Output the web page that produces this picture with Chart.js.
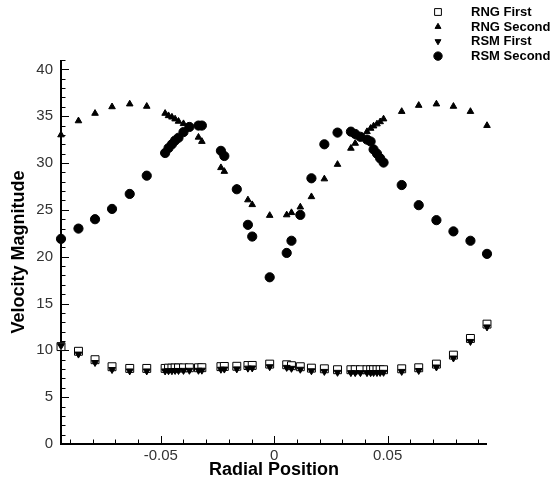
<!DOCTYPE html>
<html>
<head>
<meta charset="utf-8">
<script src="https://cdn.jsdelivr.net/npm/chart.js@4.4.1/dist/chart.umd.min.js"></script>
<style>
  html, body { margin: 0; padding: 0; background: #fff; }
  #velocityChart { display: block; }
</style>
</head>
<body>
<canvas id="velocityChart" width="554" height="486"></canvas>
<script>
// mesh positions shared by all four series
const radialPosition = [
    -0.0940, -0.0863, -0.0790, -0.0715, -0.0637, -0.0562,
    -0.0481, -0.0466, -0.0451, -0.0437, -0.0422, -0.0400, -0.0374, -0.0334, -0.0319,
    -0.0235, -0.0220, -0.0165, -0.0116, -0.0097, -0.0020,
    0.0055, 0.0076, 0.0115, 0.0164, 0.0221, 0.0279,
    0.0338, 0.0357, 0.0380, 0.0409, 0.0425, 0.0438, 0.0453, 0.0467, 0.0482,
    0.0562, 0.0637, 0.0715, 0.0790, 0.0865, 0.0938
];

const rngFirst = [
    10.4, 9.9, 9.0, 8.25, 8.07, 8.07,
    8.07, 8.1, 8.1, 8.12, 8.12, 8.13, 8.14, 8.14, 8.15,
    8.26, 8.28, 8.3, 8.38, 8.39, 8.53,
    8.46, 8.36, 8.25, 8.1, 8.03, 7.93,
    7.93, 7.93, 7.93, 7.93, 7.93, 7.93, 7.93, 7.93, 7.93,
    8.03, 8.14, 8.53, 9.49, 11.27, 12.8
];

const rngSecond = [
    33.0, 34.5, 35.3, 36.0, 36.3, 36.05,
    35.3, 35.05, 34.9, 34.7, 34.45, 34.2, 33.8, 32.75, 32.3,
    29.5, 29.1, 27.3, 26.06, 25.55, 24.4,
    24.46, 24.7, 25.3, 26.4, 28.3, 29.85,
    31.57, 32.1, 32.7, 33.35, 33.7, 33.95, 34.17, 34.4, 34.7,
    35.5, 36.15, 36.3, 36.05, 35.5, 34.0
];

const rsmFirst = [
    10.5, 9.6, 8.7, 7.95, 7.8, 7.8,
    7.8, 7.82, 7.82, 7.85, 7.85, 7.86, 7.87, 7.87, 7.88,
    7.98, 8.0, 8.02, 8.1, 8.12, 8.25,
    8.18, 8.08, 7.98, 7.82, 7.75, 7.65,
    7.62, 7.62, 7.62, 7.62, 7.62, 7.63, 7.63, 7.64, 7.65,
    7.75, 7.85, 8.22, 9.18, 10.95, 12.5
];

const rsmSecond = [
    21.9, 23.0, 24.0, 25.1, 26.7, 28.65,
    31.07, 31.6, 32.0, 32.4, 32.7, 33.3, 33.85, 34.0, 34.0,
    31.3, 30.75, 27.2, 23.4, 22.15, 17.8,
    20.4, 21.7, 24.46, 28.37, 32.0, 33.25,
    33.35, 33.1, 32.8, 32.5, 32.3, 31.45, 31.0, 30.5, 30.05,
    27.65, 25.5, 23.9, 22.7, 21.7, 20.3
];

const seriesNames = ['RNG First', 'RNG Second', 'RSM First', 'RSM Second'];
const xTickLabels = [-0.05, 0, 0.05];
const yTickLabels = [0, 5, 10, 15, 20, 25, 30, 35, 40];

const labelFont = '"Liberation Sans", Arial, Helvetica, sans-serif';

function toPoints(values) {
    return radialPosition.map((x, i) => ({ x: x, y: values[i] }));
}

// plain left/bottom axes with inward major and minor ticks
const axisFramePlugin = {
    id: 'axisFrame',
    beforeDatasetsDraw(chart) {
        const { ctx, chartArea } = chart;
        const xScale = chart.scales.x;
        const yScale = chart.scales.y;
        ctx.save();
        ctx.strokeStyle = '#000';
        ctx.lineWidth = 2;
        ctx.beginPath();
        ctx.moveTo(chartArea.left, chartArea.top);
        ctx.lineTo(chartArea.left, chartArea.bottom);
        ctx.lineTo(chartArea.right, chartArea.bottom);
        ctx.stroke();

        ctx.lineWidth = 1;
        ctx.beginPath();
        for (let i = -9; i <= 9; i++) {
            const px = Math.round(xScale.getPixelForValue(i / 100)) + 0.5;
            const len = i % 5 === 0 ? 8 : 4.5;
            ctx.moveTo(px, chartArea.bottom);
            ctx.lineTo(px, chartArea.bottom - len);
        }
        for (let v = 0; v <= 41; v++) {
            const py = Math.round(yScale.getPixelForValue(v)) + 0.5;
            const len = v % 5 === 0 ? 8 : 4.5;
            ctx.moveTo(chartArea.left, py);
            ctx.lineTo(chartArea.left + len, py);
        }
        ctx.stroke();
        ctx.restore();
    }
};

// legend in the top right corner, symbols then bold names
const cornerLegendPlugin = {
    id: 'cornerLegend',
    afterDraw(chart) {
        const ctx = chart.ctx;
        const symbolSize = [4.8, 3.4, 3.4, 4.2];
        ctx.save();
        ctx.font = 'bold 13px ' + labelFont;
        ctx.textBaseline = 'middle';
        ctx.textAlign = 'left';
        chart.data.datasets.forEach((ds, i) => {
            const cy = 12 + i * 14.7;
            ctx.fillStyle = ds.pointBackgroundColor;
            ctx.strokeStyle = '#000';
            ctx.lineWidth = 1;
            Chart.helpers.drawPoint(ctx, {
                pointStyle: ds.pointStyle,
                rotation: ds.pointRotation || 0,
                radius: symbolSize[i],
                borderWidth: 1
            }, 438, cy);
            ctx.fillStyle = '#000';
            ctx.fillText(ds.label, 471, cy + 0.5);
        });
        ctx.restore();
    }
};

const ctx = document.getElementById('velocityChart').getContext('2d');
const velocityChart = new Chart(ctx, {
    type: 'scatter',
    data: {
        datasets: [
            {
                label: seriesNames[0],
                data: toPoints(rngFirst),
                pointStyle: 'rect',
                pointRadius: 5.6,
                pointBackgroundColor: '#fff',
                pointBorderColor: '#000',
                pointBorderWidth: 1,
                order: 4
            },
            {
                label: seriesNames[1],
                data: toPoints(rngSecond),
                pointStyle: 'triangle',
                pointRadius: 3.8,
                pointBackgroundColor: '#000',
                pointBorderColor: '#000',
                pointBorderWidth: 1,
                order: 3
            },
            {
                label: seriesNames[2],
                data: toPoints(rsmFirst),
                pointStyle: 'triangle',
                pointRotation: 180,
                pointRadius: 4,
                pointBackgroundColor: '#000',
                pointBorderColor: '#000',
                pointBorderWidth: 1,
                order: 2
            },
            {
                label: seriesNames[3],
                data: toPoints(rsmSecond),
                pointStyle: 'circle',
                pointRadius: 4.6,
                pointBackgroundColor: '#000',
                pointBorderColor: '#000',
                pointBorderWidth: 1,
                order: 1
            }
        ]
    },
    options: {
        responsive: false,
        animation: false,
        clip: false,
        layout: {
            padding: { top: 60, right: 67, left: 0, bottom: 0 }
        },
        plugins: {
            legend: { display: false },
            tooltip: { enabled: false }
        },
        scales: {
            x: {
                type: 'linear',
                min: -0.094,
                max: 0.0938,
                grid: { display: false, drawTicks: false },
                border: { display: false },
                afterBuildTicks: (axis) => {
                    axis.ticks = xTickLabels.map(v => ({ value: v }));
                },
                afterFit: (axis) => {
                    axis.height = 42;
                },
                ticks: {
                    padding: 3,
                    color: '#333',
                    font: { family: labelFont, size: 15 },
                    maxRotation: 0,
                    callback: (value) => String(value)
                },
                title: {
                    display: true,
                    text: 'Radial Position',
                    color: '#000',
                    font: { family: labelFont, size: 18, weight: 'bold' },
                    padding: { top: 0, bottom: 5 }
                }
            },
            y: {
                type: 'linear',
                min: 0,
                max: 41,
                grid: { display: false, drawTicks: false },
                border: { display: false },
                afterBuildTicks: (axis) => {
                    axis.ticks = yTickLabels.map(v => ({ value: v }));
                },
                afterFit: (axis) => {
                    axis.width = 61;
                },
                ticks: {
                    padding: 8,
                    color: '#333',
                    font: { family: labelFont, size: 15 },
                    callback: (value) => String(value)
                },
                title: {
                    display: true,
                    text: 'Velocity Magnitude',
                    color: '#000',
                    font: { family: labelFont, size: 18, weight: 'bold' },
                    padding: { top: 8, bottom: 0 }
                }
            }
        }
    },
    plugins: [axisFramePlugin, cornerLegendPlugin]
});
</script>
</body>
</html>
